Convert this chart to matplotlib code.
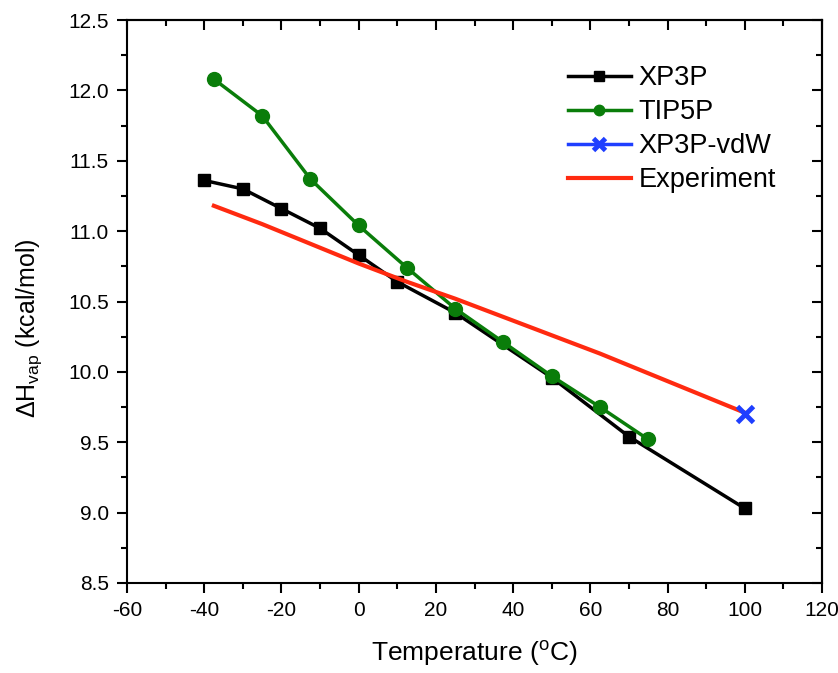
import matplotlib
matplotlib.use("Agg")
import matplotlib.pyplot as plt
from matplotlib.ticker import MultipleLocator

plt.rcParams['font.family'] = ['Liberation Sans', 'DejaVu Sans']
plt.rcParams['axes.unicode_minus'] = False

xp3p_T = [-40, -30, -20, -10, 0, 10, 25, 50, 70, 100]
xp3p_H = [11.36, 11.30, 11.16, 11.02, 10.83, 10.64, 10.42, 9.96, 9.54, 9.03]

tip5p_T = [-37.5, -25, -12.5, 0, 12.5, 25, 37.5, 50, 62.5, 75]
tip5p_H = [12.08, 11.82, 11.37, 11.04, 10.74, 10.45, 10.21, 9.97, 9.75, 9.52]

vdw_T = [100]
vdw_H = [9.70]

exp_T = [-37.5, -25, -12.5, 0, 12.5, 25, 37.5, 50, 62.5, 75, 87.5, 100]
exp_H = [11.18, 11.05, 10.91, 10.77, 10.64, 10.52, 10.39, 10.26, 10.13, 9.99, 9.85, 9.71]

fig = plt.figure(figsize=(8.38, 6.73), dpi=100)
ax = fig.add_axes([127/838, 1-583/673, (822-127)/838, (583-20)/673])

ax.plot(xp3p_T, xp3p_H, color='black', lw=2.5, marker='s', ms=9, label='XP3P', zorder=3)
ax.plot(tip5p_T, tip5p_H, color='#0a7d0a', lw=2.5, marker='o', ms=10, label='TIP5P', zorder=4)
ax.plot(vdw_T, vdw_H, color='#1f3fff', lw=2.5, marker='x', ms=12, mew=3.5, label='XP3P-vdW', zorder=6)
ax.plot(exp_T, exp_H, color='#ff2a10', lw=3, label='Experiment', zorder=5)

ax.set_xlim(-60, 120)
ax.set_ylim(8.5, 12.5)
ax.xaxis.set_major_locator(MultipleLocator(20))
ax.xaxis.set_minor_locator(MultipleLocator(10))
ax.yaxis.set_major_locator(MultipleLocator(0.5))
ax.yaxis.set_minor_locator(MultipleLocator(0.25))
ax.yaxis.set_major_formatter(matplotlib.ticker.FormatStrFormatter('%.1f'))

ax.tick_params(which='both', direction='out', bottom=True, left=True, top=False, right=False, width=1.5, labelsize=15)
ax.tick_params(which='major', length=7, pad=6)
ax.tick_params(which='minor', length=4)
for s in ax.spines.values():
    s.set_linewidth(1.5)

axt = ax.secondary_xaxis('top')
axt.xaxis.set_major_locator(MultipleLocator(20))
axt.xaxis.set_minor_locator(MultipleLocator(10))
axt.tick_params(which='both', direction='in', width=1.5, labeltop=False)
axt.tick_params(which='major', length=7)
axt.tick_params(which='minor', length=4)
axt.spines['top'].set_linewidth(1.5)
axr = ax.secondary_yaxis('right')
axr.yaxis.set_major_locator(MultipleLocator(0.5))
axr.yaxis.set_minor_locator(MultipleLocator(0.25))
axr.tick_params(which='both', direction='in', width=1.5, labelright=False)
axr.tick_params(which='major', length=7)
axr.tick_params(which='minor', length=4)
axr.spines['right'].set_linewidth(1.5)

ax.set_xlabel('Temperature ($\\mathregular{^{o}}$C)', fontsize=19, labelpad=14)
ax.set_ylabel('$\\mathregular{\\Delta H_{vap}}$ (kcal/mol)', fontsize=18)
ax.yaxis.set_label_coords(-0.12, 0.453)

leg = ax.legend(loc='upper left', bbox_to_anchor=(0.635, 0.92), frameon=False, fontsize=19.5,
                handlelength=2.3, handletextpad=0.3, labelspacing=0.3, markerscale=0.75,
                borderpad=0, borderaxespad=0)

fig.savefig('out.png', dpi=100)
